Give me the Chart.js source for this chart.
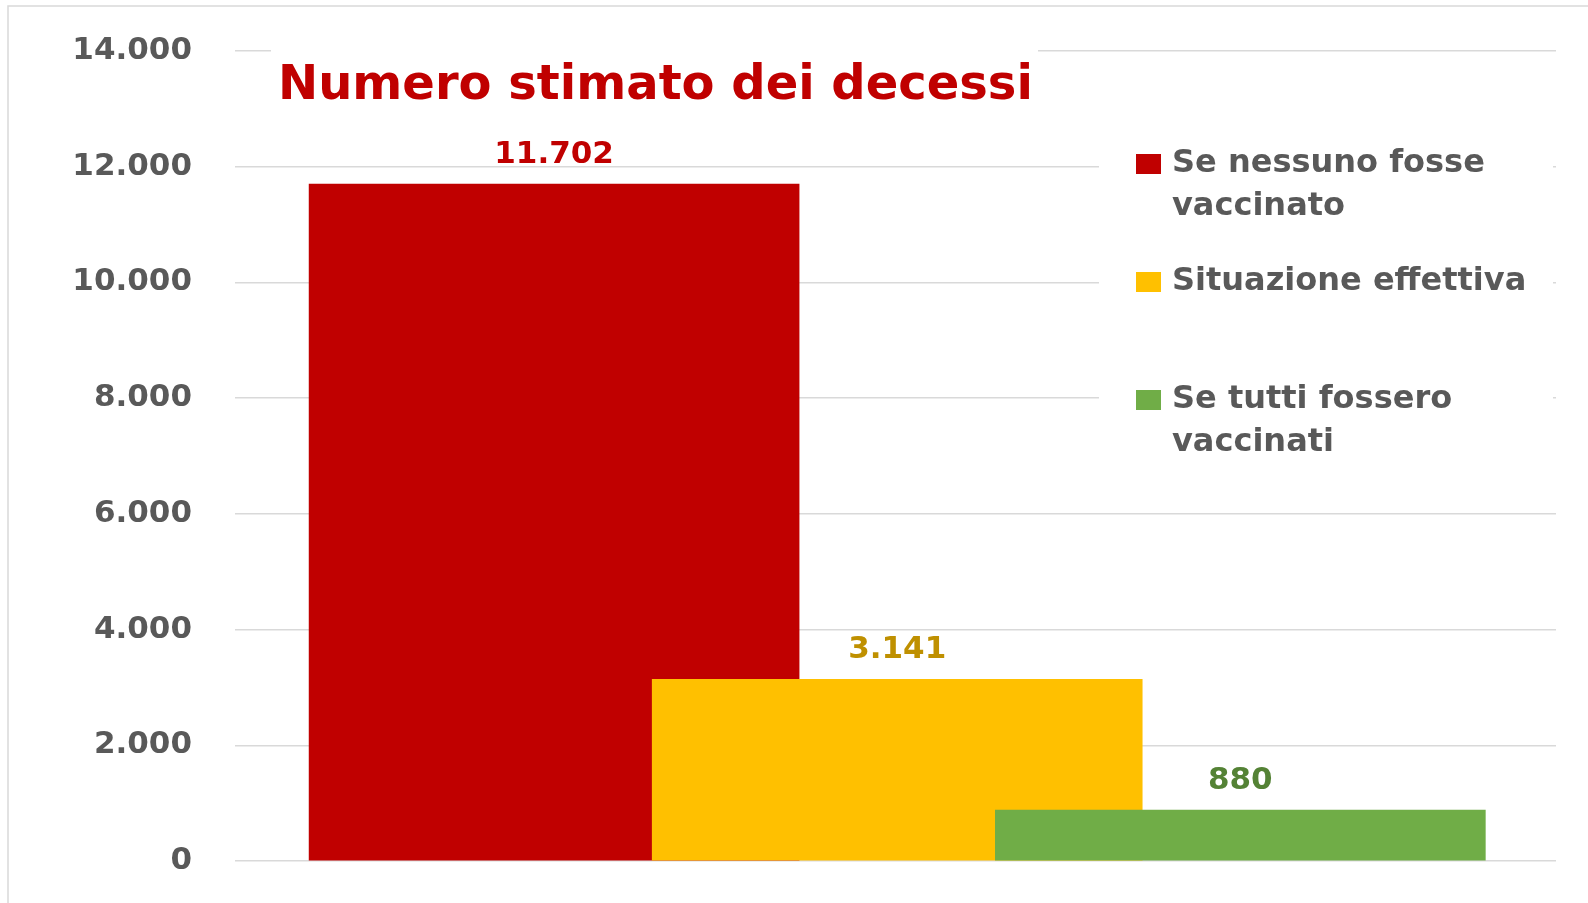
<!DOCTYPE html>
<html lang="it">
<head>
<meta charset="utf-8">
<title>Numero stimato dei decessi</title>
<script src="https://cdn.jsdelivr.net/npm/chart.js@4.4.1/dist/chart.umd.min.js"></script>
<style>
    html, body { margin: 0; padding: 0; background: #fff; }
    canvas { display: block; }
</style>
</head>
<body>
<canvas id="chart" width="1588" height="903"></canvas>
<script>
// dati
const chartTitle = 'Numero stimato dei decessi';
const seriesLabels = [['Se nessuno fosse', 'vaccinato'], ['Situazione effettiva'], ['Se tutti fossero', 'vaccinati']];
const seriesValues = [11702, 3141, 880];
const seriesPositions = [1, 2, 3];
const barColors = ['#C00000', '#FFC000', '#70AD47'];
const labelColors = ['#C00000', '#BF9000', '#548235'];
const yTickMax = 14000;
const yTickStep = 2000;

const fontFamily = "'DejaVu Sans', Verdana, sans-serif";
const grey = '#595959';

// formato italiano: 11702 -> 11.702
const formatNum = (v) => String(Math.round(v)).replace(/\B(?=(\d{3})+(?!\d))/g, '.');

// cornice, titolo dentro l'area, etichette dei valori e legenda a destra
const decorPlugin = {
    id: 'decor',
    beforeDraw(chart) {
        const ctx = chart.ctx;
        ctx.save();
        ctx.strokeStyle = '#D9D9D9';
        ctx.lineWidth = 1.5;
        ctx.beginPath();
        ctx.moveTo(8, chart.height);
        ctx.lineTo(8, 6);
        ctx.lineTo(chart.width, 6);
        ctx.stroke();
        ctx.restore();
    },
    afterDatasetsDraw(chart) {
        const ctx = chart.ctx;
        ctx.save();
        ctx.font = `bold 31px ${fontFamily}`;
        ctx.textAlign = 'center';
        ctx.textBaseline = 'middle';
        chart.data.datasets.forEach((ds, i) => {
            const el = chart.getDatasetMeta(i).data[0];
            ctx.fillStyle = labelColors[i];
            ctx.fillText(formatNum(seriesValues[i]), el.x, el.y - 29);
        });
        ctx.restore();
    },
    afterDraw(chart) {
        const ctx = chart.ctx;
        const area = chart.chartArea;
        ctx.save();

        // titolo
        ctx.fillStyle = '#fff';
        ctx.fillRect(area.left + 36, area.top - 20, 767, 100);
        ctx.fillStyle = '#C00000';
        ctx.font = `bold 48px ${fontFamily}`;
        ctx.textAlign = 'left';
        ctx.textBaseline = 'alphabetic';
        ctx.fillText(chartTitle, area.left + 43, 99);

        // legenda
        const lx = 1099;
        ctx.fillStyle = '#fff';
        ctx.fillRect(lx, 130, area.right - lx - 3, 335);
        ctx.font = `bold 32px ${fontFamily}`;
        ctx.textBaseline = 'middle';
        seriesLabels.forEach((lines, i) => {
            const y0 = 164 + i * 118;
            ctx.fillStyle = barColors[i];
            ctx.fillRect(lx + 37, y0 - 10, 25, 20);
            ctx.fillStyle = grey;
            lines.forEach((line, j) => {
                ctx.fillText(line, lx + 73, y0 + j * 43);
            });
        });
        ctx.restore();
    }
};

const datasets = seriesValues.map((v, i) => ({
    label: seriesLabels[i].join(' '),
    data: [{ x: seriesPositions[i], y: v }],
    backgroundColor: barColors[i],
    borderWidth: 0,
    barThickness: 490,
    grouped: false,
    order: seriesValues.length - i // l'ultima serie va disegnata sopra
}));

new Chart(document.getElementById('chart'), {
    type: 'bar',
    data: { datasets },
    options: {
        responsive: false,
        animation: false,
        events: [],
        layout: { padding: { top: 51, bottom: 42, right: 32, left: 0 } },
        plugins: {
            legend: { display: false },
            title: { display: false },
            tooltip: { enabled: false }
        },
        scales: {
            x: {
                type: 'linear',
                display: false,
                offset: false,
                min: 0.07,
                max: 3.92,
                grid: { display: false }
            },
            y: {
                min: 0,
                max: yTickMax,
                border: { display: false },
                grid: {
                    color: '#D9D9D9',
                    lineWidth: 1.5,
                    drawTicks: true,
                    tickLength: 33,
                    tickColor: 'rgba(0,0,0,0)'
                },
                ticks: {
                    stepSize: yTickStep,
                    padding: 10,
                    color: grey,
                    font: { family: fontFamily, size: 31, weight: 'bold' },
                    callback: (v) => formatNum(v)
                },
                afterFit: (scale) => { scale.width = 235; }
            }
        }
    },
    plugins: [decorPlugin]
});
</script>
</body>
</html>
